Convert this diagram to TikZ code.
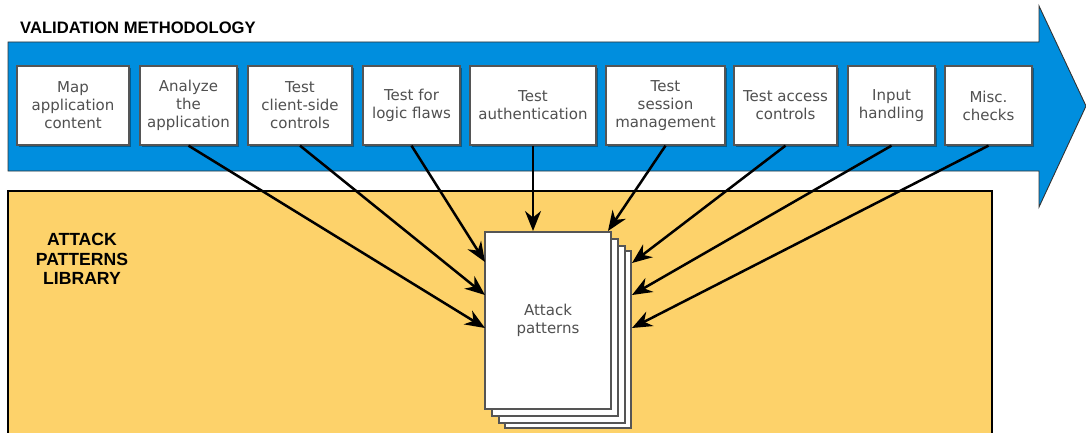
\documentclass[tikz,border=0pt]{standalone}
\usepackage{fontspec}
\setmainfont{DejaVu Sans}
\newfontfamily\headfont{Liberation Sans}
\usetikzlibrary{arrows.meta,shadows}

\definecolor{flowblue}{RGB}{0,142,222}
\definecolor{libyellow}{RGB}{253,210,106}
\definecolor{boxtext}{RGB}{80,80,80}
\definecolor{boxline}{RGB}{85,85,85}

\begin{document}
\begin{tikzpicture}[x=1pt,y=1pt,yscale=-1,xscale=1,
  stepbox/.style={draw=boxline,line width=1.3pt,fill=white,text=boxtext,align=center,
    minimum height=79pt,inner sep=0pt,font=\fontsize{15}{18}\selectfont,
    drop shadow={shadow xshift=2pt,shadow yshift=-2pt,opacity=0.35,fill=black}},
  sheet/.style={draw=boxline,line width=1.3pt,fill=white,minimum width=126pt,minimum height=177pt,inner sep=0pt},
  link/.style={line width=2.5pt,-{Stealth[length=20pt,width=16pt,inset=6.5pt]}},
  caps/.style={inner sep=0pt}]
\clip (0,0) rectangle (1086,433);

%Shape: Block Arrow
\draw [fill=flowblue,draw=black!80,line width=0.9pt] (8,42) -- (1039,42) -- (1039,6) -- (1086,106) -- (1039,207) -- (1039,171) -- (8,171) -- cycle ;
%Shape: Rectangle
\draw [fill=libyellow,draw=black,line width=1.6pt] (8,440) -- (8,191) -- (992,191) -- (992,440) ;

% Text Node
\node (title) [caps,anchor=base west,font=\headfont\bfseries\fontsize{16.6}{19}\selectfont] at (20,34) {VALIDATION METHODOLOGY};
% Text Node
\node (library) [caps,align=center,font=\headfont\bfseries\fontsize{17.6}{19.5}\selectfont] at (82,259) {ATTACK\\PATTERNS\\LIBRARY};

%Shape: Steps
\node (b1) [stepbox,minimum width=112pt] at (73,105.5) {Map\\application\\content};
\node (b2) [stepbox,minimum width=97pt] at (188.5,105.5) {Analyze\\the\\application};
\node (b3) [stepbox,minimum width=104pt] at (300,105.5) {Test\\client-side\\controls};
\node (b4) [stepbox,minimum width=97pt] at (411.5,105.5) {Test for\\logic flaws};
\node (b5) [stepbox,minimum width=126pt] at (533,105.5) {Test\\authentication};
\node (b6) [stepbox,minimum width=119pt] at (665.5,105.5) {Test\\session\\management};
\node (b7) [stepbox,minimum width=103pt] at (785.5,105.5) {Test access\\controls};
\node (b8) [stepbox,minimum width=87pt] at (891.5,105.5) {Input\\handling};
\node (b9) [stepbox,minimum width=87pt] at (988.5,105.5) {Misc.\\checks};

%Shape: Page Stack
\node (sheet3) [sheet] at (568,339.5) {};
\node (sheet2) [sheet] at (562,334.5) {};
\node (sheet1) [sheet] at (555,327.5) {};
\node (page) [sheet,text=boxtext,align=center,font=\fontsize{15}{17.5}\selectfont] at (548,320.5) {Attack\\patterns};

% Arrow Ends
\coordinate (l1) at (485,262);
\coordinate (l2) at (485,295);
\coordinate (l3) at (485,328);
\coordinate (t1) at (533,231);
\coordinate (t2) at (608,231);
\coordinate (r1) at (632,263);
\coordinate (r2) at (632,295);
\coordinate (r3) at (632,328);

%Straight Lines
\draw [link] (b2.south) -- (l3) ;
\draw [link] (b3.south) -- (l2) ;
\draw [link] (b4.south) -- (l1) ;
\draw [link] (b5.south) -- (t1) ;
\draw [link] (b6.south) -- (t2) ;
\draw [link] (b7.south) -- (r1) ;
\draw [link] (b8.south) -- (r2) ;
\draw [link] (b9.south) -- (r3) ;

\end{tikzpicture}
\end{document}
